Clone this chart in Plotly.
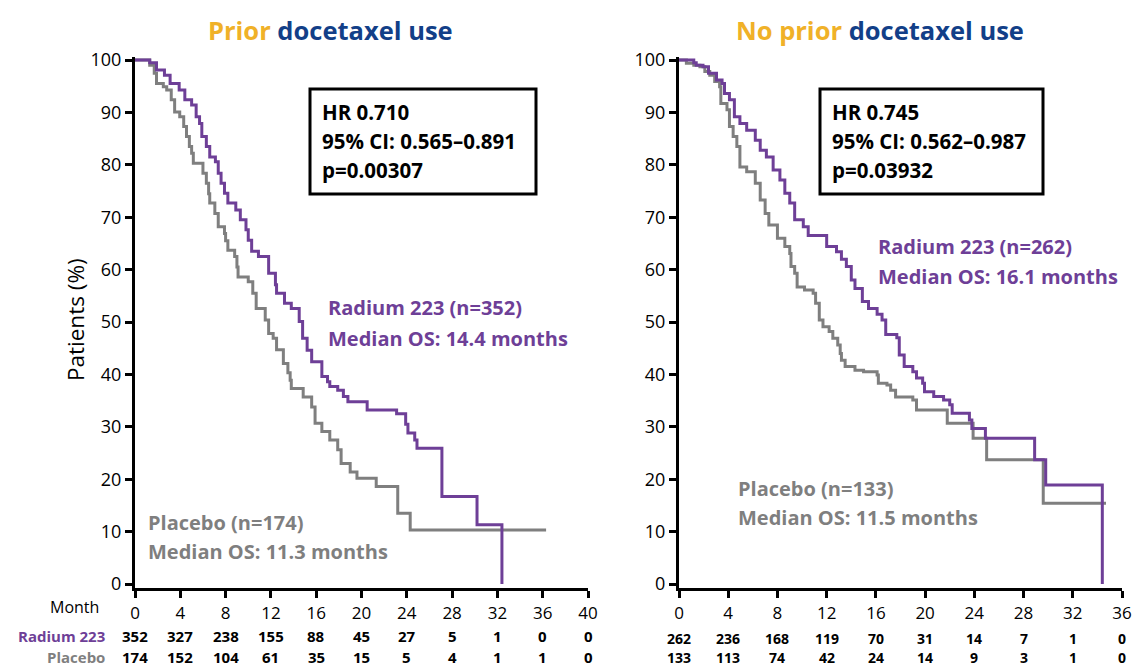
import plotly.graph_objects as go

W, H = 1134, 668

# ---------------- data ----------------
months_left = [0, 4, 8, 12, 16, 20, 24, 28, 32, 36, 40]
months_right = [0, 4, 8, 12, 16, 20, 24, 28, 32, 36]
y_ticks = [0, 10, 20, 30, 40, 50, 60, 70, 80, 90, 100]

# Prior docetaxel use - Radium 223 (drop time, survival %)
l_ra_t = [0, 1.3, 1.9, 2.6, 3.1, 3.9, 4.4, 5.0, 5.4, 5.7, 5.9, 6.3, 6.6, 7.1, 7.35, 7.6, 7.9, 8.2,
          8.9, 9.3, 9.8, 10.0, 10.3, 10.9, 11.8, 12.4, 12.5, 13.2, 13.8, 14.5, 14.8, 15.2, 15.6,
          16.5, 17.0, 17.2, 17.9, 18.4, 18.8, 20.5, 23.1, 23.9, 24.1, 24.7, 24.9, 27.1, 30.2, 32.4]
l_ra_s = [100, 99.5, 98.1, 97.1, 95.5, 94.3, 92.4, 91.4, 89.2, 87.9, 85.4, 83.5, 81.5, 80.6, 78.4, 76.5,
          74.6, 72.7, 71.4, 69.5, 67.6, 65.6, 63.5, 62.5, 59.3, 57.1, 55.5, 53.6, 52.6, 50.1, 46.9,
          44.6, 42.4, 39.6, 38.6, 37.7, 37.0, 35.8, 34.8, 33.2, 32.5, 30.5, 28.8, 27.5, 25.9, 16.7,
          11.3, 0]

# Prior docetaxel use - Placebo
l_pl_t = [0, 1.3, 1.7, 1.9, 2.5, 2.8, 3.2, 3.5, 3.95, 4.3, 4.55, 4.8, 5.0, 5.15, 6.0, 6.3, 6.5, 6.6,
          7.05, 7.35, 7.9, 8.0, 8.2, 8.8, 9.0, 9.1, 10.0, 10.4, 10.7, 11.5, 11.8, 12.2, 12.5, 13.1,
          13.5, 13.7, 13.8, 14.85, 15.6, 15.9, 16.5, 17.2, 17.9, 18.2, 19.0, 19.6, 21.3, 23.2, 24.3,
          36.3]
l_pl_s = [100, 99.0, 97.5, 95.5, 94.9, 94.3, 92.4, 90.1, 89.2, 87.3, 85.4, 83.5, 82.2, 80.3, 78.4,
          76.5, 74.5, 72.7, 70.7, 68.2, 66.9, 65.5, 63.7, 62.5, 60.5, 58.6, 57.7, 55.5, 52.6, 50.4,
          47.8, 46.9, 44.7, 42.1, 40.3, 38.9, 37.3, 35.7, 33.8, 30.7, 29.1, 27.5, 25.6, 23.0, 21.4,
          20.2, 18.6, 13.5, 10.3, 10.3]

# No prior docetaxel use - Radium 223
r_ra_t = [0, 1.2, 1.4, 1.95, 2.4, 3.05, 3.5, 3.7, 4.1, 4.5, 4.95, 5.5, 6.2, 6.6, 7.1, 7.65, 8.2, 8.6,
          9.0, 9.4, 10.1, 10.5, 12.0, 12.8, 13.2, 13.6, 14.0, 14.3, 14.9, 15.4, 16.1, 16.5, 16.8,
          17.7, 17.9, 18.3, 19.0, 19.3, 19.8, 19.95, 20.7, 21.5, 22.0, 22.2, 23.6, 23.8, 24.9, 28.9,
          29.8, 34.4]
r_ra_s = [100, 99.5, 99.0, 98.7, 97.5, 96.2, 95.5, 93.6, 92.4, 89.2, 87.9, 86.6, 84.7, 82.8, 81.5,
          79.0, 77.1, 74.6, 72.7, 69.5, 68.2, 66.5, 64.4, 63.4, 62.0, 60.6, 58.0, 56.4, 53.9, 52.6,
          51.5, 50.4, 47.6, 47.0, 43.7, 41.5, 40.5, 39.3, 38.3, 36.7, 35.8, 35.1, 34.2, 32.6, 31.3,
          29.7, 27.8, 23.7, 18.9, 0]

# No prior docetaxel use - Placebo
r_pl_t = [0, 0.6, 1.2, 1.7, 2.1, 2.5, 2.9, 3.3, 3.4, 3.9, 4.1, 4.4, 4.7, 4.95, 5.5, 6.2, 6.6, 7.0,
          7.3, 8.0, 8.6, 9.0, 9.1, 9.4, 9.6, 10.2, 10.9, 11.1, 11.4, 11.7, 12.2, 12.5, 12.9, 13.1,
          13.2, 13.5, 14.3, 15.0, 16.1, 16.2, 16.9, 17.2, 17.6, 19.0, 19.3, 21.8, 23.9, 25.0, 29.6,
          34.7]
r_pl_s = [100, 99.4, 99.0, 98.7, 97.8, 97.1, 95.9, 94.9, 91.7, 90.5, 87.3, 85.4, 83.5, 79.6, 78.7,
          76.5, 73.3, 70.7, 68.5, 66.0, 64.4, 63.1, 60.6, 59.3, 56.7, 56.1, 55.5, 53.6, 50.4, 49.1,
          48.2, 46.9, 45.6, 44.0, 42.7, 41.5, 40.8, 40.5, 39.9, 38.3, 38.0, 37.0, 35.7, 35.1, 33.2,
          30.7, 27.8, 23.7, 15.4, 15.4]

# numbers at risk
l_risk_ra = [352, 327, 238, 155, 88, 45, 27, 5, 1, 0, 0]
l_risk_pl = [174, 152, 104, 61, 35, 15, 5, 4, 1, 1, 0]
r_risk_ra = [262, 236, 168, 119, 70, 31, 14, 7, 1, 0]
r_risk_pl = [133, 113, 74, 42, 24, 14, 9, 3, 1, 0]

# ---------------- style ----------------
PURPLE = "#6E3F97"
GRAY = "#7F7F7F"
GOLD = "#F0B128"
BLUE = "#123F88"
FONT = "Open Sans"


def px(x):
    return x / W


def py(y):
    return 1 - y / H


fig = go.Figure()

for t, s, col, xa, ya in [
    (l_pl_t, l_pl_s, GRAY, "x", "y"),
    (l_ra_t, l_ra_s, PURPLE, "x", "y"),
    (r_pl_t, r_pl_s, GRAY, "x2", "y2"),
    (r_ra_t, r_ra_s, PURPLE, "x2", "y2"),
]:
    fig.add_trace(go.Scatter(x=t, y=s, mode="lines", line=dict(color=col, width=3, shape="hv"),
                             xaxis=xa, yaxis=ya, showlegend=False, hoverinfo="skip"))

# y geometry: 100 -> px 60, 0 -> px 584
y_top_px, y_bot_px = 56.9, 588.2
ydom = [py(y_bot_px), py(y_top_px)]

axis_common = dict(showline=True, linecolor="black", linewidth=3, ticks="outside", ticklen=7,
                   tickwidth=3, tickcolor="black", showgrid=False, zeroline=False,
                   automargin=False)
xfont = dict(family=FONT, size=17, color="black")
yfont = dict(family=FONT, size=18, color="black")

fig.update_layout(
    width=W, height=H, margin=dict(l=0, r=0, t=0, b=0, autoexpand=False),
    paper_bgcolor="white", plot_bgcolor="white",
    xaxis=dict(domain=[px(135), px(588)], range=[0, 40], tickvals=months_left, anchor="y",
               tickfont=xfont, **axis_common),
    yaxis=dict(domain=ydom, range=[-0.8, 100.6], tickvals=y_ticks, anchor="x", tickfont=yfont,
               **axis_common),
    xaxis2=dict(domain=[px(679), px(1122)], range=[0, 36], tickvals=months_right, anchor="y2",
                tickfont=xfont, **axis_common),
    yaxis2=dict(domain=ydom, range=[-0.8, 100.6], tickvals=y_ticks, anchor="x2", tickfont=yfont,
                **axis_common),
)

ann = []


def text(x, y, s, size=17, color="black", bold=False, xanchor="center", xref="paper", **kw):
    ann.append(dict(x=x, y=y, xref=xref, yref="paper", text=(f"<b>{s}</b>" if bold else s),
                    showarrow=False, xanchor=xanchor, yanchor="middle",
                    font=dict(family=FONT, size=size, color=color), **kw))


# titles
text(px(330), py(30), f"<span style='color:{GOLD}'>Prior</span> docetaxel use", size=25.5,
     color=BLUE, bold=True)
text(px(880), py(30), f"<span style='color:{GOLD}'>No prior</span> docetaxel use", size=25.5,
     color=BLUE, bold=True)

# y-axis title
text(px(75), py(320), "Patients (%)", size=22.5, textangle=-90)

# HR boxes
for x0, x1, lines in [
    (310, 536, ["HR 0.710", "95% CI: 0.565–0.891", "p=0.00307"]),
    (820, 1043, ["HR 0.745", "95% CI: 0.562–0.987", "p=0.03932"]),
]:
    fig.add_shape(type="rect", xref="paper", yref="paper", x0=px(x0), x1=px(x1), y0=py(194),
                  y1=py(89), line=dict(color="black", width=3), fillcolor="white", layer="above")
    for i, ln in enumerate(lines):
        text(px(x0 + 10), py(112 + 29 * i), ln, size=20.5, bold=True, xanchor="left")

# curve labels
LS = 20
text(px(326), py(307), "Radium 223 (n=352)", size=LS, color=PURPLE, bold=True, xanchor="left")
text(px(326), py(338), "Median OS: 14.4 months", size=LS, color=PURPLE, bold=True, xanchor="left")
text(px(146), py(522), "Placebo (n=174)", size=LS, color=GRAY, bold=True, xanchor="left")
text(px(146), py(551), "Median OS: 11.3 months", size=LS, color=GRAY, bold=True, xanchor="left")

text(px(876), py(246), "Radium 223 (n=262)", size=LS, color=PURPLE, bold=True, xanchor="left")
text(px(876), py(276), "Median OS: 16.1 months", size=LS, color=PURPLE, bold=True, xanchor="left")
text(px(736), py(488), "Placebo (n=133)", size=LS, color=GRAY, bold=True, xanchor="left")
text(px(736), py(517), "Median OS: 11.5 months", size=LS, color=GRAY, bold=True, xanchor="left")

# risk table
text(px(101), py(607), "Month", size=16, xanchor="right")
text(px(107), py(636), "Radium 223", size=15, color=PURPLE, bold=True, xanchor="right")
text(px(107), py(657), "Placebo", size=15, color=GRAY, bold=True, xanchor="right")
for m, a, b in zip(months_left, l_risk_ra, l_risk_pl):
    text(m, py(636), str(a), size=15, bold=True, xref="x")
    text(m, py(657), str(b), size=15, bold=True, xref="x")
for m, a, b in zip(months_right, r_risk_ra, r_risk_pl):
    text(m, py(638), str(a), size=14, bold=True, xref="x2")
    text(m, py(657.5), str(b), size=14, bold=True, xref="x2")

fig.update_layout(annotations=ann)
fig.write_html("out.html")
